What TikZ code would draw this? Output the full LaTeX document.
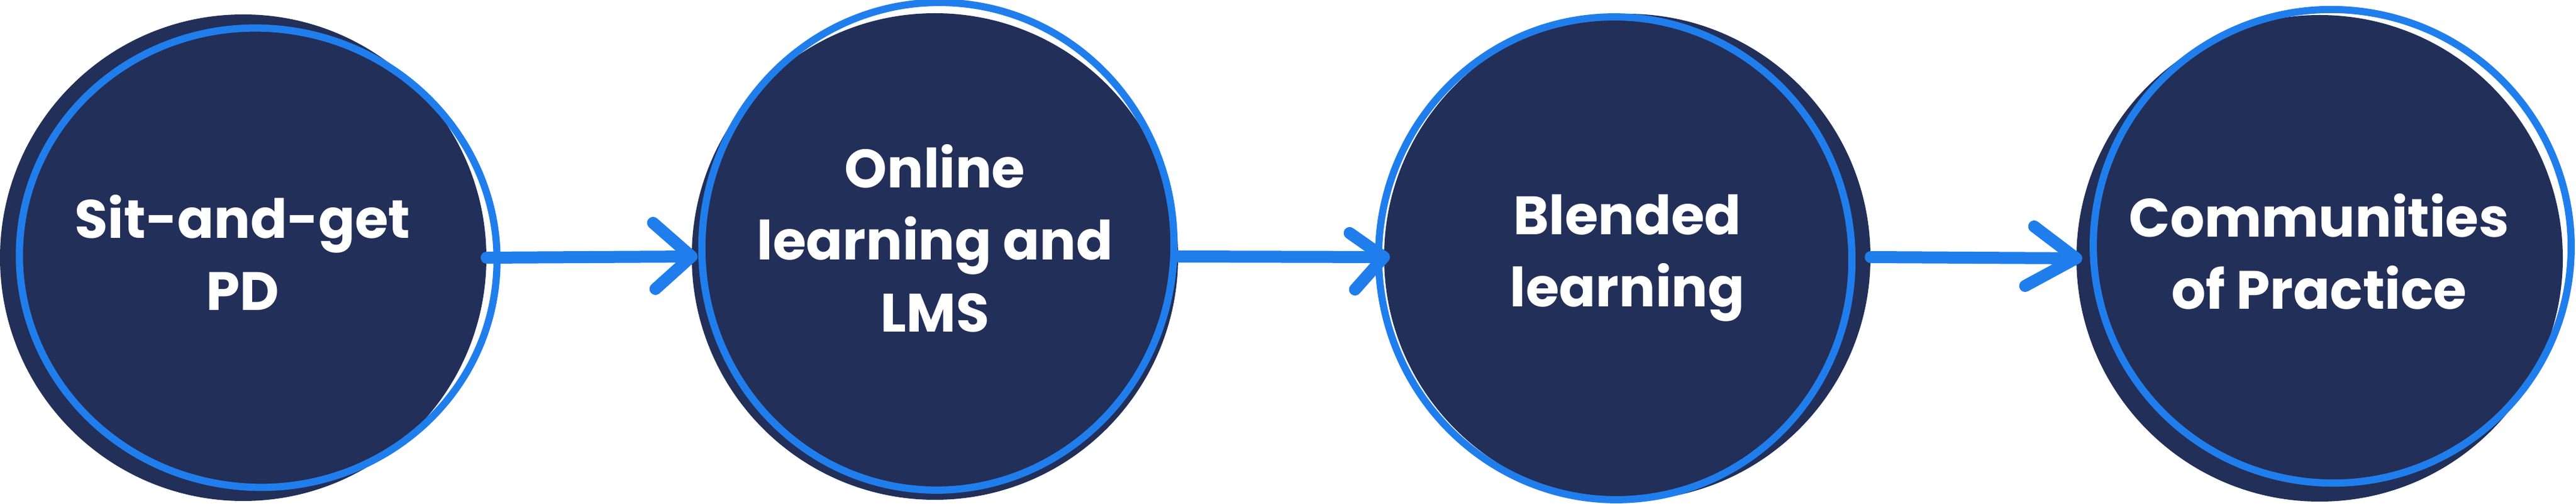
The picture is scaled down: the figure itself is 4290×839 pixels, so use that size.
\documentclass[tikz,border=0pt]{standalone}
\usepackage{fontspec}
\setmainfont{Poppins}
\usetikzlibrary{calc}
\definecolor{navy}{HTML}{222F59}
\definecolor{sketchblue}{HTML}{207EEC}
\begin{document}
\begin{tikzpicture}[x=0.5pt,y=-0.5pt,
  disc/.style={circle, fill=navy, minimum size=405pt, inner sep=0pt},
  txt/.style={text=white, font=\fontsize{45}{60}\selectfont\bfseries, align=center, inner sep=0pt},
  sketch/.style={draw=sketchblue, line width=6pt},
  arrowline/.style={draw=sketchblue, line width=10pt, line cap=round, line join=round}]
\useasboundingbox (0,0) rectangle (4290,839);
% dark discs
\node[disc] (c1) at (405,429) {};
\node[disc] (c2) at (1557,427) {};
\node[disc] (c3) at (2710,428) {};
\node[disc] (c4) at (3863,430) {};
% hand-drawn outlines
\draw[sketch] ($(c1.center)+(25,0)$) ellipse [x radius=398, y radius=382, rotate=-8];
\draw[sketch] ($(c2.center)+(5,-17)$) ellipse [x radius=393, y radius=406, rotate=-6];
\draw[sketch] ($(c3.center)+(-20,2)$) ellipse [x radius=394, y radius=402, rotate=8];
\draw[sketch] ($(c4.center)+(21,-20)$) ellipse [x radius=398, y radius=394, rotate=-10];
% connectors
\draw[arrowline] (c1.east) -- (c2.west);
\draw[arrowline] ($(c2.west)+(-64,-56)$) -- (c2.west) -- ($(c2.west)+(-60,54)$);
\draw[arrowline] (c2.east) -- (c3.west);
\draw[arrowline] ($(c3.west)+(-57,-40)$) -- (c3.west) -- ($(c3.west)+(-48,54)$);
\draw[arrowline] (c3.east) -- (c4.west);
\draw[arrowline] ($(c4.west)+(-70,-53)$) -- (c4.west) -- ($(c4.west)+(-85,46)$);
% texts
\node[txt] (t1) at (404,420) {Sit-and-get\\PD};
\node[txt] (t2) at (1557,397) {Online\\learning and\\LMS};
\node[txt] (t3) at (2710,430) {Blended\\learning};
\node[txt] (t4) at (3862,419) {Communities\\of Practice};
\end{tikzpicture}
\end{document}
